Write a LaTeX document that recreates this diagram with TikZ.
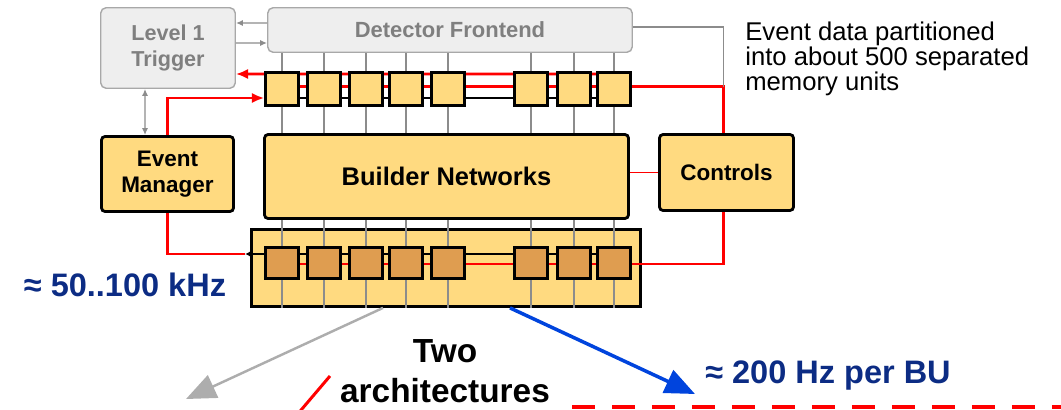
\documentclass[tikz,border=0pt]{standalone}
\usepackage{fontspec}
\setmainfont{Liberation Sans}
\usetikzlibrary{arrows.meta,calc}

\definecolor{unityellow}{HTML}{FFDA80}
\definecolor{unittan}{HTML}{DF9D50}
\definecolor{frontgray}{HTML}{EEEEEE}
\definecolor{edgegray}{HTML}{A8A8A8}
\definecolor{textgray}{HTML}{7F7F7F}
\definecolor{wiregray}{HTML}{8C8C8C}
\definecolor{ratenavy}{HTML}{0C2C84}
\definecolor{busred}{HTML}{FF0000}
\definecolor{archgray}{HTML}{ADADAD}
\definecolor{archblue}{HTML}{0044DD}

\pgfdeclarelayer{back}
\pgfdeclarelayer{mid}
\pgfsetlayers{back,mid,main}

\begin{document}
\begin{tikzpicture}[
    x=0.02cm, y=-0.02cm,
    graybox/.style={
        draw=edgegray,
        fill=frontgray,
        line width=0.8pt,
        rounded corners=3pt,
        text=textgray,
        align=center,
        inner sep=0pt,
        font=\bfseries\fontsize{12.3}{15}\selectfont
    },
    netbox/.style={
        draw,
        fill=unityellow,
        line width=1.6pt,
        rounded corners=2pt,
        align=center,
        inner sep=0pt,
        font=\bfseries\fontsize{12.8}{14.7}\selectfont
    },
    memunit/.style={
        draw,
        fill=unityellow,
        line width=1.6pt,
        inner sep=0pt,
        minimum width=0.66cm,
        minimum height=0.66cm
    },
    membuf/.style={memunit, fill=unittan, minimum height=0.62cm},
    ratelabel/.style={text=ratenavy, inner sep=0pt, font=\bfseries\fontsize{18.5}{22}\selectfont},
    vline/.style={draw=wiregray, line width=0.9pt},
    grayarrow/.style={draw=wiregray, line width=0.8pt, -{Latex[length=4pt,width=3.5pt]}},
    redline/.style={draw=busred, line width=1.7pt},
    redarrow/.style={redline, -{Latex[length=7pt,width=6pt]}},
    blackarrow/.style={draw, line width=1.5pt, -{Latex[length=4pt,width=4.5pt]}},
    archarrow/.style={-{Triangle[length=17pt,width=14pt]}}
]
\useasboundingbox (0,0) rectangle (1061,409);

% Front end boxes
\node[graybox, minimum width=2.69cm, minimum height=1.61cm] (trig) at (168,48) {Level 1\\Trigger};
\node[graybox, minimum width=7.29cm, minimum height=0.89cm, font=\bfseries\fontsize{12.5}{15}\selectfont] (det) at (450,30) {Detector Frontend};

% Main boxes
\node[netbox, minimum width=7.28cm, minimum height=1.68cm, font=\bfseries\fontsize{14.5}{17}\selectfont] (bn) at (446.5,176.5) {Builder Networks};
\node[netbox, minimum width=2.64cm, minimum height=1.50cm] (em) at (167.5,174) {Event\\Manager};
\node[netbox, minimum width=2.68cm, minimum height=1.52cm] (ctrl) at (726.5,172.5) {Controls};

% Buffer container
\begin{pgfonlayer}{back}
\node[draw, fill=unityellow, line width=1.6pt, minimum width=7.78cm, minimum height=1.54cm] (cont) at (446,268) {};
\end{pgfonlayer}

% Top memory units
\node[memunit] (t1) at (282,89) {};
\node[memunit] (t2) at (324,89) {};
\node[memunit] (t3) at (366,89) {};
\node[memunit] (t4) at (406,89) {};
\node[memunit] (t5) at (448,89) {};
\node[memunit] (t6) at (531,89) {};
\node[memunit] (t7) at (574,89) {};
\node[memunit] (t8) at (614,89) {};

% Bottom buffer units
\node[membuf] (b1) at (282,263) {};
\node[membuf] (b2) at (324,263) {};
\node[membuf] (b3) at (366,263) {};
\node[membuf] (b4) at (406,263) {};
\node[membuf] (b5) at (448,263) {};
\node[membuf] (b6) at (531,263) {};
\node[membuf] (b7) at (574,263) {};
\node[membuf] (b8) at (614,263) {};

% Labels
\node[anchor=north west, align=left, inner sep=0pt, font=\fontsize{14.6}{14.2}\selectfont] (note) at (745,22)
{Event data partitioned\\into about 500 separated\\memory units};
\node[ratelabel, anchor=base] (inrate) at (125,296) {≈ 50..100 kHz};
\node[ratelabel, anchor=base] (burate) at (828,383) {≈ 200 Hz per BU};
\node[anchor=north, align=center, inner sep=0pt, font=\bfseries\fontsize{19}{22.7}\selectfont] (arch) at (445,339) {Two\\architectures};

% Junction points
\coordinate (jTop) at ($(ctrl.north |- t8.east)+(-3,-2.5)$);
\coordinate (jCtl) at ($(ctrl.south |- b8.center)+(-3,1)$);
\coordinate (jBot) at ($(cont.west |- b1.center)+(-5,-9)$);
\coordinate (grayEnd) at (186,399);
\coordinate (blueEnd) at (695,394);

\begin{pgfonlayer}{mid}
% Readout lines
\draw[vline] (det.south -| t1) -- (cont.south -| t1);
\draw[vline] (det.south -| t2) -- (cont.south -| t2);
\draw[vline] (det.south -| t3) -- (cont.south -| t3);
\draw[vline] (det.south -| t4) -- (cont.south -| t4);
\draw[vline] (det.south -| t5) -- (cont.south -| t5);
\draw[vline] (det.south -| t6) -- (cont.south -| t6);
\draw[vline] (det.south -| t7) -- (cont.south -| t7);
\draw[vline] (det.south -| t8) -- (cont.south -| t8);

% Top row links
\draw[redarrow] ([yshift=0.3cm]t8.center) -- ([yshift=-0.52cm]trig.east);
\draw[redline] (t1.center |- jTop) -- (jTop) -- (jTop |- ctrl.north);
\draw[line width=1.5pt] ([yshift=-0.18cm]t1.center) -- ([yshift=-0.18cm]t8.center);

% Bottom row links
\draw[redline] (em.south) |- (jBot);
\draw[blackarrow] (b8.center |- jBot) -- (jBot);
\draw[redline] (b1.center |- jCtl) -- (jCtl) -- (jCtl |- ctrl.south);
\end{pgfonlayer}

% Arrows: front end
\draw[grayarrow] ([yshift=0.14cm]det.west) -- ([yshift=0.5cm]trig.east);
\draw[grayarrow] ([yshift=0.1cm]trig.east) -- ([yshift=-0.26cm]det.west);
\draw[grayarrow, {Latex[length=4pt,width=3.5pt]}-{Latex[length=4pt,width=3.5pt]}] ([xshift=-0.46cm]trig.south) -- ([xshift=-0.45cm]em.north);
\draw[draw=wiregray, line width=0.8pt] ([yshift=0.06cm]det.east) -| (jTop);

% Arrows: event manager and controls
\draw[redarrow] (em.north) |- ([yshift=-0.18cm]t1.west);
\draw[busred, line width=0.8pt] (ctrl.west -| bn.east) -- (ctrl.west);

% Arrows: architectures
\draw[archarrow, draw=archgray, line width=1.4pt] ([xshift=-1.26cm]cont.south) -- (grayEnd);
\draw[archarrow, draw=archblue, line width=2pt] ([xshift=1.28cm]cont.south) -- (blueEnd);

% Cut marks at the bottom edge
\draw[busred, line width=1.7pt] (296,416) -- (330,376);
\draw[busred, line width=2.3pt, dash pattern=on 0.46cm off 0.34cm] (572,407) -- (1075,407);

\end{tikzpicture}
\end{document}
